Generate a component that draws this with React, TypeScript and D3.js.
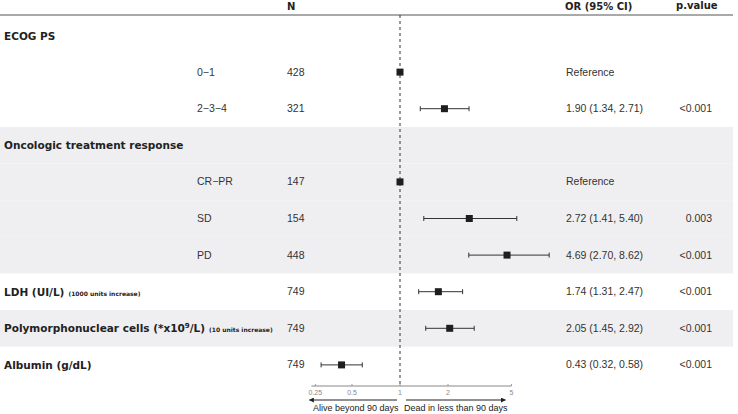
import React from "react";
import * as d3 from "d3";

const rowVariable = ["ECOG PS", "", "", "Oncologic treatment response", "", "", "", "LDH (UI/L)", "Polymorphonuclear cells (*x10", "Albumin (g/dL)"];
const rowVariableNote = ["", "", "", "", "", "", "", "(1000 units increase)", "(10 units increase)", ""];
const rowLevel = ["", "0\u22121", "2\u22123\u22124", "", "CR\u2212PR", "SD", "PD", "", "", ""];
const rowN = [null, 428, 321, null, 147, 154, 448, 749, 749, 749];
const rowOR = [null, 1, 1.9, null, 1, 2.72, 4.69, 1.74, 2.05, 0.43];
const rowLow = [null, null, 1.34, null, null, 1.41, 2.7, 1.31, 1.45, 0.32];
const rowHigh = [null, null, 2.71, null, null, 5.4, 8.62, 2.47, 2.92, 0.58];
const rowEstText = ["", "Reference", "1.90 (1.34, 2.71)", "", "Reference", "2.72 (1.41, 5.40)", "4.69 (2.70, 8.62)", "1.74 (1.31, 2.47)", "2.05 (1.45, 2.92)", "0.43 (0.32, 0.58)"];
const rowP = ["", "", "<0.001", "", "", "0.003", "<0.001", "<0.001", "<0.001", "<0.001"];
const shadedRows = [3, 4, 5, 6, 8];
const axisTicks = [0.25, 0.5, 1, 2, 5];
const axisMin = 0.278;
const axisMax = 5;

const W = 738;
const H = 414;
const boldFont = "'DejaVu Sans', Verdana, sans-serif";
const plainFont = "'Liberation Sans', Arial, sans-serif";

export default function App() {
  const x = d3.scaleLog().base(2).domain([0.25, 8]).range([304, 544]);
  const rowH = 36.6;
  const y = (i: number) => 35.5 + rowH * i;
  const axisY = 386;

  return (
    <svg width={W} height={H} style={{ position: "absolute", left: 0, top: 0, background: "#fff" }}>
      {shadedRows.map((i) => (
        <rect key={"b" + i} x={0} y={y(i) - rowH / 2} width={733} height={rowH} fill="#efeff1" />
      ))}
      <line x1={0} x2={733} y1={15} y2={15} stroke="#8c8c8c" strokeWidth={1.5} />
      <text x={287} y={10} fontFamily={boldFont} fontWeight="bold" fontSize={10} fill="#222">N</text>
      <text x={565} y={10} fontFamily={boldFont} fontWeight="bold" fontSize={10} fill="#222">OR (95% CI)</text>
      <text x={676} y={9} fontFamily={boldFont} fontWeight="bold" fontSize={10} fill="#222">p.value</text>

      <line x1={x(1)} x2={x(1)} y1={15} y2={axisY} stroke="#333" strokeWidth={1} strokeDasharray="3,3" />

      {rowVariable.map((v, i) =>
        v ? (
          <text key={"v" + i} x={4} y={y(i) + 4} fontFamily={boldFont} fontWeight="bold" fontSize={10.5} fill="#222">
            {v}
            {i === 8 ? (
              <>
                <tspan fontSize={7} dy={-4}>9</tspan>
                <tspan dy={4}>/L)</tspan>
              </>
            ) : null}
            {rowVariableNote[i] ? (
              <tspan fontSize={6} dx={4}>{rowVariableNote[i]}</tspan>
            ) : null}
          </text>
        ) : null
      )}

      {rowLevel.map((l, i) =>
        l ? (
          <text key={"l" + i} x={197} y={y(i) + 3.5} fontFamily={plainFont} fontSize={10.5} fill="#333">{l}</text>
        ) : null
      )}

      {rowN.map((n, i) =>
        n !== null ? (
          <text key={"n" + i} x={287} y={y(i) + 3.5} fontFamily={plainFont} fontSize={10.5} fill="#333">{n}</text>
        ) : null
      )}

      {rowOR.map((o, i) => {
        if (o === null) return null;
        const lo = rowLow[i];
        const hi = rowHigh[i];
        const cy = y(i);
        return (
          <g key={"p" + i}>
            {lo !== null && hi !== null ? (
              <g stroke="#333" strokeWidth={1}>
                <line x1={x(lo)} x2={x(hi)} y1={cy} y2={cy} />
                <line x1={x(lo)} x2={x(lo)} y1={cy - 2.5} y2={cy + 2.5} />
                <line x1={x(hi)} x2={x(hi)} y1={cy - 2.5} y2={cy + 2.5} />
              </g>
            ) : null}
            <rect x={x(o) - 3.5} y={cy - 3.5} width={7} height={7} fill="#1e1e1e" />
          </g>
        );
      })}

      {rowEstText.map((t, i) =>
        t ? (
          <text key={"e" + i} x={566} y={y(i) + 3.5} fontFamily={plainFont} fontSize={10.5} fill="#333">{t}</text>
        ) : null
      )}
      {rowP.map((t, i) =>
        t ? (
          <text key={"q" + i} x={712} y={y(i) + 3.5} textAnchor="end" fontFamily={plainFont} fontSize={10.5} fill="#333">{t}</text>
        ) : null
      )}

      <line x1={x(axisMin)} x2={x(axisMax)} y1={axisY} y2={axisY} stroke="#888" strokeWidth={1} />
      {axisTicks.map((t) => {
        const tx = Math.max(x(t), x(axisMin) + 4);
        return (
          <g key={"t" + t}>
            <line x1={tx} x2={tx} y1={axisY - 2} y2={axisY} stroke="#888" strokeWidth={0.8} />
            <text x={tx} y={axisY + 9} textAnchor="middle" fontFamily={plainFont} fontSize={7} fill="#888">{t}</text>
          </g>
        );
      })}
      <defs>
        <marker id="ah" viewBox="0 0 10 10" refX={9} refY={5} markerWidth={5} markerHeight={5} orient="auto-start-reverse">
          <path d="M0,0 L10,5 L0,10 z" fill="#222" />
        </marker>
      </defs>
      <line x1={x(axisMin) - 2} x2={x(1) - 3} y1={400} y2={400} stroke="#222" strokeWidth={1} markerStart="url(#ah)" />
      <line x1={x(1) + 6} x2={x(axisMax) - 6} y1={400} y2={400} stroke="#222" strokeWidth={1} markerEnd="url(#ah)" />
      <text x={(x(axisMin) + x(1)) / 2} y={411} textAnchor="middle" fontFamily={plainFont} fontSize={9} fill="#222">Alive beyond 90 days</text>
      <text x={(x(1) + x(axisMax)) / 2} y={411} textAnchor="middle" fontFamily={plainFont} fontSize={9} fill="#222">Dead in less than 90 days</text>
    </svg>
  );
}
